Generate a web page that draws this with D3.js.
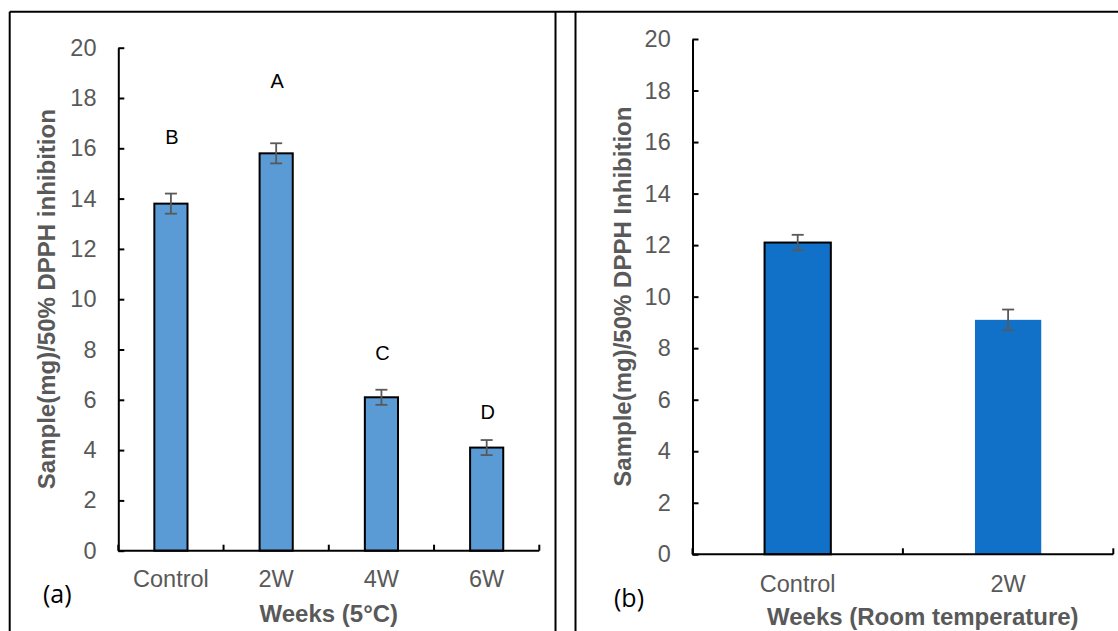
<!DOCTYPE html>
<html>
<head>
<meta charset="utf-8">
<script src="https://cdn.jsdelivr.net/npm/d3@7"></script>
<style>
  html, body { margin: 0; padding: 0; background: #fff; }
  svg { display: block; }
</style>
</head>
<body>
<svg id="fig" width="1118" height="631"></svg>
<script>
// Panel (a): storage at 5°C
const categoriesA = ["Control", "2W", "4W", "6W"];
const valuesA = [13.8, 15.8, 6.1, 4.1];
const errorsA = [0.4, 0.4, 0.3, 0.3];
const lettersA = ["B", "A", "C", "D"];
const letterLevelsA = [16.17, 18.39, 7.58, 5.24];

// Panel (b): storage at room temperature
const categoriesB = ["Control", "2W"];
const valuesB = [12.1, 9.1];
const errorsB = [0.3, 0.4];

const yTicks = [0, 2, 4, 6, 8, 10, 12, 14, 16, 18, 20];

const svg = d3.select("#fig");
const FONT = "'Liberation Sans', Arial, sans-serif";
const GREY = "#595959";

// Frame lines around the two panels
const frame = svg.append("g").attr("stroke", "#000").attr("stroke-width", 2).attr("fill", "none");
frame.append("line").attr("x1", 9.7).attr("x2", 1118).attr("y1", 11.7).attr("y2", 11.7);
frame.append("line").attr("x1", 9.7).attr("x2", 9.7).attr("y1", 11.7).attr("y2", 631);
frame.append("line").attr("x1", 555.5).attr("x2", 555.5).attr("y1", 11.7).attr("y2", 631);
frame.append("line").attr("x1", 575.5).attr("x2", 575.5).attr("y1", 11.7).attr("y2", 631);

function drawPanel(cfg) {
  const g = svg.append("g");
  const x = d3.scaleBand().domain(cfg.categories).range([cfg.x0, cfg.x1]).padding(0);
  const y = d3.scaleLinear().domain([0, 20]).range([cfg.y0, cfg.y1]);
  const bw = x.bandwidth() * 0.315;

  // Bars
  cfg.categories.forEach((c, i) => {
    const cx = x(c) + x.bandwidth() / 2;
    g.append("rect")
      .attr("x", cx - bw / 2)
      .attr("y", y(cfg.values[i]))
      .attr("width", bw)
      .attr("height", y(0) - y(cfg.values[i]))
      .attr("fill", cfg.fill)
      .attr("stroke", cfg.outlined[i] ? "#000" : "none")
      .attr("stroke-width", 2);
  });

  // Error bars
  cfg.categories.forEach((c, i) => {
    const cx = x(c) + x.bandwidth() / 2;
    const hi = y(cfg.values[i] + cfg.errors[i]);
    const lo = y(cfg.values[i] - cfg.errors[i]);
    const eg = g.append("g").attr("stroke", GREY).attr("stroke-width", 1.8);
    eg.append("line").attr("x1", cx).attr("x2", cx).attr("y1", hi).attr("y2", lo);
    eg.append("line").attr("x1", cx - 6).attr("x2", cx + 6).attr("y1", hi).attr("y2", hi);
    eg.append("line").attr("x1", cx - 6).attr("x2", cx + 6).attr("y1", lo).attr("y2", lo);
  });

  // Significance letters
  if (cfg.letters) {
    cfg.categories.forEach((c, i) => {
      g.append("text")
        .attr("x", x(c) + x.bandwidth() / 2 + 1)
        .attr("y", y(cfg.letterLevels[i]))
        .attr("text-anchor", "middle")
        .attr("font-family", FONT)
        .attr("font-size", 20)
        .attr("fill", "#000")
        .text(cfg.letters[i]);
    });
  }

  // Y axis with inward ticks
  const yAxis = g.append("g")
    .attr("transform", `translate(${cfg.x0},0)`)
    .call(d3.axisLeft(y).tickValues(yTicks).tickSizeInner(-6).tickSizeOuter(0).tickPadding(21.8));
  yAxis.select(".domain").attr("stroke", "#000").attr("stroke-width", 2);
  yAxis.selectAll(".tick line").attr("stroke", "#000").attr("stroke-width", 2);
  yAxis.selectAll(".tick text")
    .attr("font-family", FONT).attr("font-size", 23.5).attr("fill", GREY);

  // X axis: category labels, ticks at band boundaries
  const xAxis = g.append("g")
    .attr("transform", `translate(0,${cfg.y0})`)
    .call(d3.axisBottom(x).tickSize(0).tickSizeOuter(0));
  xAxis.select(".domain").attr("stroke", "#000").attr("stroke-width", 2)
    .attr("d", `M${cfg.x0},0H${cfg.x1}`);
  xAxis.selectAll(".tick text")
    .attr("dy", null).attr("y", cfg.xLabelOffset)
    .attr("font-family", FONT).attr("font-size", 23.5).attr("fill", GREY);
  const bounds = cfg.categories.map(c => x(c)).concat([cfg.x1]);
  xAxis.selectAll(".bound").data(bounds).join("line")
    .attr("class", "bound")
    .attr("x1", d => d).attr("x2", d => d)
    .attr("y1", 0).attr("y2", -6)
    .attr("stroke", "#000").attr("stroke-width", 2);

  // Axis titles
  g.append("text")
    .attr("x", cfg.xTitleX).attr("y", cfg.xTitleY)
    .attr("text-anchor", "middle")
    .attr("font-family", FONT).attr("font-size", 24).attr("font-weight", "bold")
    .attr("fill", GREY)
    .text(cfg.xTitle);
  g.append("text")
    .attr("transform", `translate(${cfg.yTitleX},${(cfg.y0 + cfg.y1) / 2}) rotate(-90)`)
    .attr("text-anchor", "middle")
    .attr("font-family", FONT).attr("font-size", 24).attr("font-weight", "bold")
    .attr("fill", GREY)
    .text(cfg.yTitle);

  // Panel tag
  g.append("text")
    .attr("x", cfg.tagX).attr("y", cfg.tagY)
    .attr("font-family", "'Open Sans', Lato, sans-serif")
    .attr("font-size", 25)
    .attr("fill", "#000")
    .text(cfg.tag);
}

drawPanel({
  categories: categoriesA, values: valuesA, errors: errorsA,
  letters: lettersA, letterLevels: letterLevelsA,
  x0: 118.3, x1: 539.3, y0: 550.7, y1: 47.7,
  fill: "#5B9BD5", outlined: [true, true, true, true],
  xLabelOffset: 36,
  xTitle: "Weeks (5°C)", xTitleX: 328.8, xTitleY: 621.7,
  yTitle: "Sample(mg)/50% DPPH inhibition", yTitleX: 54.5,
  tag: "(a)", tagX: 43, tagY: 602.5
});

drawPanel({
  categories: categoriesB, values: valuesB, errors: errorsB,
  x0: 692.5, x1: 1113.3, y0: 554.3, y1: 39,
  fill: "#1170C8", outlined: [true, false],
  xLabelOffset: 38,
  xTitle: "Weeks (Room temperature)", xTitleX: 922.8, xTitleY: 625,
  yTitle: "Sample(mg)/50% DPPH Inhibition", yTitleX: 631,
  tag: "(b)", tagX: 614, tagY: 607
});
</script>
</body>
</html>
